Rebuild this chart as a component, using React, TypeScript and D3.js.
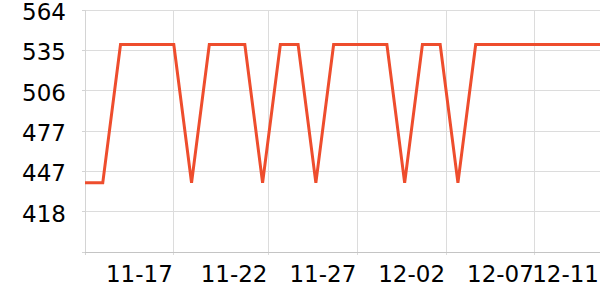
import React from 'react';
import * as d3 from 'd3';

const dates: string[] = [
  '2023-11-12', '2023-11-13', '2023-11-14', '2023-11-15', '2023-11-16', '2023-11-17',
  '2023-11-18', '2023-11-19', '2023-11-20', '2023-11-21', '2023-11-22', '2023-11-23',
  '2023-11-24', '2023-11-25', '2023-11-26', '2023-11-27', '2023-11-28', '2023-11-29',
  '2023-11-30', '2023-12-01', '2023-12-02', '2023-12-03', '2023-12-04', '2023-12-05',
  '2023-12-06', '2023-12-07', '2023-12-08', '2023-12-09', '2023-12-10', '2023-12-11',
];

const prices: number[] = [
  439, 439, 539, 539, 539, 539, 439, 539, 539, 539, 439, 539, 539, 439, 539,
  539, 539, 539, 439, 539, 539, 439, 539, 539, 539, 539, 539, 539, 539, 539,
];

const xTickTimes: string[] = [
  '2023-11-17T00:00:00+08:00',
  '2023-11-22T00:00:00Z',
  '2023-11-27T00:00:00Z',
  '2023-12-02T00:00:00Z',
  '2023-12-07T00:00:00Z',
  '2023-12-11T00:00:00+08:00',
];
const xTickLabels: string[] = ['11-17', '11-22', '11-27', '12-02', '12-07', '12-11'];

const yMin = 389;
const yMax = 564;
const ySplits = 6;

const W = 600;
const H = 300;
const left = 85;
const right = 600;
const top = 10;
const bottom = 252;

const parseLocal = (s: string) => new Date(s + 'T00:00:00+08:00');

export default function App() {
  const data = dates.map((d, i) => ({ t: parseLocal(d), v: prices[i] }));
  const x = d3
    .scaleTime()
    .domain([data[0].t, data[data.length - 1].t])
    .range([left, right]);
  const y = d3.scaleLinear().domain([yMin, yMax]).range([bottom, top]);

  const yTicks = d3.range(ySplits + 1).map((i) => yMin + (i * (yMax - yMin)) / ySplits);
  const xTicks = xTickTimes.map((s) => new Date(s));

  const line = d3
    .line<{ t: Date; v: number }>()
    .x((d) => x(d.t))
    .y((d) => y(d.v));

  const font = "'DejaVu Sans', sans-serif";

  return (
    <svg
      width={W}
      height={H}
      style={{ position: 'absolute', left: 0, top: 0, background: '#fff' }}
    >
      {/* horizontal gridlines */}
      {yTicks.slice(1).map((t, i) => (
        <line
          key={'hg' + i}
          x1={left}
          x2={right}
          y1={y(t)}
          y2={y(t)}
          stroke="#dcdcdc"
          strokeWidth={1}
          shapeRendering="crispEdges"
        />
      ))}
      {/* vertical gridlines */}
      {xTicks.slice(0, xTicks.length - 1).map((t, i) => (
        <line
          key={'vg' + i}
          x1={x(t)}
          x2={x(t)}
          y1={top}
          y2={bottom + 3}
          stroke="#dcdcdc"
          strokeWidth={1}
          shapeRendering="crispEdges"
        />
      ))}
      {/* y axis line and ticks */}
      <line x1={left} x2={left} y1={top} y2={bottom + 3} stroke="#d4d4d4" shapeRendering="crispEdges" />
      {yTicks.map((t, i) => (
        <line
          key={'yt' + i}
          x1={left - 3}
          x2={left}
          y1={y(t)}
          y2={y(t)}
          stroke="#d4d4d4"
          shapeRendering="crispEdges"
        />
      ))}
      {/* x axis line */}
      <line x1={left} x2={right} y1={bottom} y2={bottom} stroke="#c4c4c4" shapeRendering="crispEdges" />
      {/* y labels */}
      {yTicks.slice(1).map((t, i) => (
        <text
          key={'yl' + i}
          x={66}
          y={y(t) + 10}
          textAnchor="end"
          fontFamily={font}
          fontSize={23}
          fill="#000"
        >
          {Math.round(t)}
        </text>
      ))}
      {/* x labels */}
      {xTicks.map((t, i) => (
        <text
          key={'xl' + i}
          x={x(t) - 1}
          y={282}
          textAnchor="end"
          fontFamily={font}
          fontSize={23}
          fill="#000"
        >
          {xTickLabels[i]}
        </text>
      ))}
      {/* price line */}
      <path d={line(data) || ''} fill="none" stroke="#ee4d2d" strokeWidth={3} />
    </svg>
  );
}
